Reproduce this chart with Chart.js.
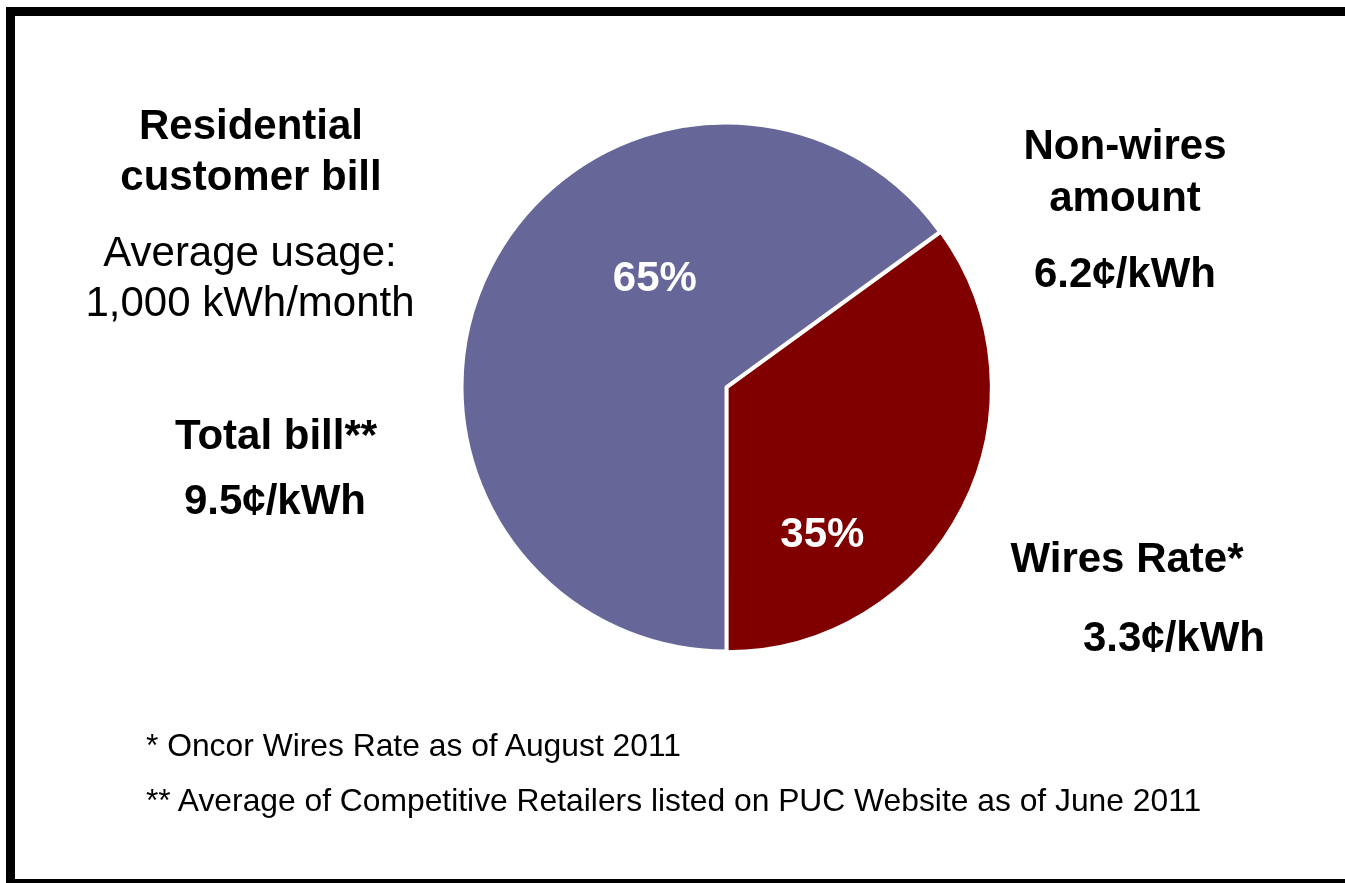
<!DOCTYPE html>
<html>
<head>
<meta charset="utf-8">
<script src="https://cdn.jsdelivr.net/npm/chart.js@4.4.1/dist/chart.umd.min.js"></script>
<style>
  html, body { margin: 0; padding: 0; background: #fff; overflow: hidden; }
  body { width: 1345px; height: 883px; position: relative; font-family: "Liberation Sans", Arial, sans-serif; color: #000; }
  #frame { position: absolute; left: 6px; top: 7px; width: 1345px; height: 863px; border: 9px solid #000; }
  #pie { position: absolute; left: 0; top: 0; }
  .lbl { position: absolute; width: 400px; text-align: center; font-size: 42px; line-height: 42px; white-space: nowrap; }
  .b { font-weight: bold; }
  .note { position: absolute; left: 146px; font-size: 31.8px; line-height: 32px; white-space: nowrap; }
</style>
</head>
<body>
<div id="frame"></div>
<canvas id="pie" width="1345" height="883"></canvas>

<div class="lbl b" style="left:51px; top:104px">Residential</div>
<div class="lbl b" style="left:51px; top:155px">customer bill</div>
<div class="lbl" style="left:50px; top:231px">Average usage:</div>
<div class="lbl" style="left:50px; top:281px">1,000 kWh/month</div>
<div class="lbl b" style="left:76px; top:414px">Total bill**</div>
<div class="lbl b" style="left:75px; top:479px">9.5¢/kWh</div>

<div class="lbl b" style="left:925px; top:124px">Non-wires</div>
<div class="lbl b" style="left:925px; top:176px">amount</div>
<div class="lbl b" style="left:925px; top:252px">6.2¢/kWh</div>
<div class="lbl b" style="left:927px; top:537px">Wires Rate*</div>
<div class="lbl b" style="left:974px; top:616px">3.3¢/kWh</div>

<div class="note" style="top:729px">* Oncor Wires Rate as of August 2011</div>
<div class="note" style="top:784px">** Average of Competitive Retailers listed on PUC Website as of June 2011</div>

<script>
// slices, clockwise from the wires slice
const sliceNames  = ["Wires Rate", "Non-wires amount"];
const sliceShares = [35, 65];
const sliceColors = ["#800000", "#666699"];

// where each percentage sits: angle clockwise from 12 o'clock, and share of the radius
const pctAngles = [146.7, 327];
const pctDist   = [0.665, 0.495];

const pctLabels = {
  id: "pctLabels",
  afterDatasetsDraw(chart) {
    const { ctx } = chart;
    const meta = chart.getDatasetMeta(0);
    ctx.save();
    ctx.fillStyle = "#fff";
    ctx.font = "bold 42px 'Liberation Sans', Arial, sans-serif";
    ctx.textAlign = "center";
    ctx.textBaseline = "middle";
    meta.data.forEach((arc, i) => {
      const a = pctAngles[i] * Math.PI / 180;
      const r = arc.outerRadius * pctDist[i];
      ctx.fillText(`${sliceShares[i]}%`, arc.x + Math.sin(a) * r, arc.y - Math.cos(a) * r + 2);
    });
    ctx.restore();
  },
};

new Chart(document.getElementById("pie"), {
  type: "pie",
  data: {
    labels: sliceNames,
    datasets: [{
      data: sliceShares,
      backgroundColor: sliceColors,
      borderColor: "#fff",
      borderWidth: 3,
      offset: [5, 0],
    }],
  },
  options: {
    responsive: false,
    animation: false,
    rotation: 54,
    radius: 264,
    layout: { padding: { left: 107, right: 0, top: 0, bottom: 109 } },
    plugins: { legend: { display: false }, tooltip: { enabled: false } },
  },
  plugins: [pctLabels],
});
</script>
</body>
</html>
